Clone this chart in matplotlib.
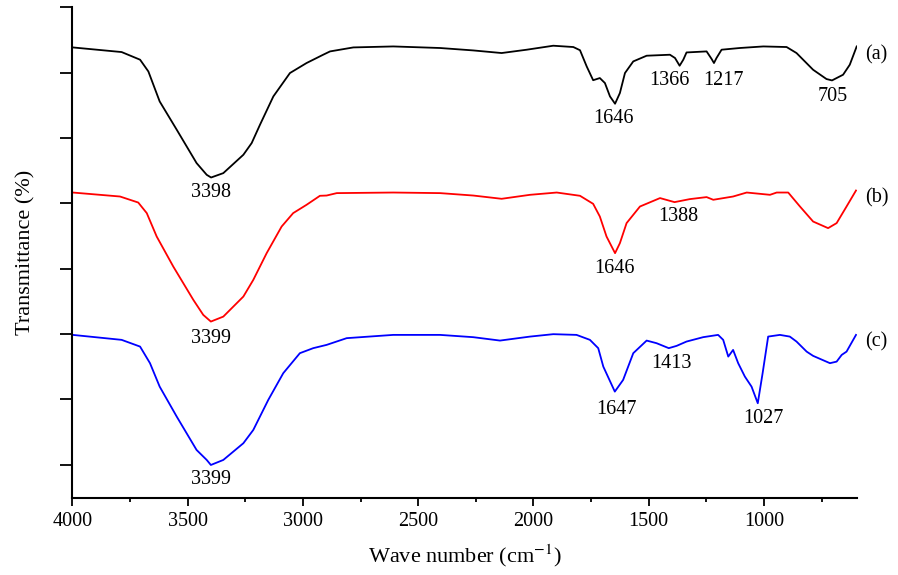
import numpy as np
import matplotlib
matplotlib.use("Agg")
import matplotlib.pyplot as plt
from matplotlib.ticker import MultipleLocator, NullFormatter

# FTIR spectra (a), (b), (c) stacked
# wavenumber (cm-1) and transmittance (arbitrary, offset per curve)
wn_a = [3998, 3786, 3706, 3670, 3621, 3547, 3461, 3417, 3398, 3345, 3258, 3222, 3186,
        3128, 3056, 2984, 2912, 2882, 2781, 2608, 2405, 2261, 2138, 2029, 1914, 1827,
        1798, 1769, 1741, 1712, 1690, 1668, 1646, 1625, 1603, 1567, 1509, 1408, 1386,
        1366, 1350, 1336, 1249, 1227, 1217, 1206, 1184, 1105, 1003, 902, 859, 787, 729,
        705, 657, 628, 598]
tr_a = [63.86, 63.15, 61.98, 60.18, 55.59, 51.26, 46.16, 44.36, 43.95, 44.62, 47.43, 49.22, 52.02,
        56.36, 59.94, 61.47, 62.74, 63.25, 63.86, 64.01, 63.77, 63.40, 63.00, 63.51, 64.12, 63.92,
        63.43, 60.95, 58.84, 59.17, 58.41, 56.36, 55.24, 56.88, 59.94, 61.72, 62.59, 62.74, 62.24,
        61.06, 61.98, 63.09, 63.25, 62.08, 61.47, 62.24, 63.51, 63.77, 64.01, 63.92, 63.00, 60.44, 59.02,
        58.81, 59.68, 61.21, 64.01]

wn_b = [3998, 3793, 3714, 3677, 3634, 3562, 3475, 3432, 3399, 3345, 3258, 3215, 3157,
        3092, 3042, 2984, 2926, 2897, 2853, 2608, 2405, 2261, 2138, 2015, 1899, 1798,
        1741, 1712, 1683, 1646, 1625, 1596, 1538, 1451, 1388, 1322, 1249, 1220, 1134,
        1075, 974, 945, 895, 844, 787, 722, 685, 642, 601]
tr_b = [41.65, 41.04, 40.12, 38.50, 34.92, 30.32, 25.22, 22.92, 21.90, 22.66, 25.73, 28.28, 32.37,
        36.45, 38.50, 39.77, 41.15, 41.19, 41.56, 41.65, 41.56, 41.19, 40.69, 41.30, 41.65, 41.15,
        39.92, 37.98, 34.92, 32.37, 33.90, 36.97, 39.51, 40.80, 40.18, 40.64, 40.95, 40.54, 41.04,
        41.65, 41.30, 41.65, 41.65, 39.51, 37.21, 36.20, 36.97, 39.51, 41.96]

wn_c = [3998, 3786, 3706, 3663, 3621, 3547, 3461, 3417, 3399, 3345, 3258, 3215, 3150,
        3085, 3013, 2955, 2897, 2810, 2608, 2405, 2261, 2145, 2015, 1914, 1813, 1755,
        1719, 1697, 1647, 1611, 1567, 1509, 1466, 1413, 1379, 1336, 1264, 1199, 1177,
        1155, 1134, 1112, 1083, 1054, 1027, 1006, 982, 931, 888, 859, 815, 787, 714,
        685, 663, 642, 601]
tr_c = [19.86, 19.10, 18.07, 15.53, 11.94, 7.35, 2.25, 0.72, -0.05, 0.72, 3.28, 5.31, 9.91,
        14.00, 17.06, 17.83, 18.33, 19.36, 19.86, 19.86, 19.51, 18.99, 19.60, 19.97, 19.86, 19.10,
        17.83, 15.01, 11.18, 12.97, 17.06, 18.99, 18.59, 17.83, 18.18, 18.84, 19.51, 19.86, 19.10,
        16.54, 17.56, 15.53, 13.48, 11.94, 9.40, 14.00, 19.60, 19.86, 19.60, 18.84, 17.30, 16.65, 15.53,
        15.77, 16.80, 17.30, 19.86]

# peak labels: text, x, y
peaks_a = [("3398", 3398, 41.65), ("1646", 1654, 53.05), ("1366", 1411, 58.76),
           ("1217", 1174, 58.76), ("705", 704, 56.36)]
peaks_b = [("3399", 3399, 19.36), ("1646", 1650, 30.08), ("1388", 1372, 37.98)]
peaks_c = [("3399", 3400, -2.34), ("1647", 1642, 8.38), ("1413", 1401, 15.53),
           ("1027", 1004, 7.0)]
curve_tags = [("(a)", 62.74), ("(b)", 40.80), ("(c)", 18.84)]

plt.rcParams["font.family"] = ["Liberation Serif", "DejaVu Serif"]
plt.rcParams["mathtext.fontset"] = "stix"

fig = plt.figure(figsize=(8.98, 5.75), dpi=100)
ax = fig.add_axes([0.0805, 0.1334, 0.954 - 0.0805, 0.9873 - 0.1334])

ax.plot(wn_a, tr_a, color="black", lw=1.3)
ax.plot(wn_b, tr_b, color="#ff0000", lw=1.3)
ax.plot(wn_c, tr_c, color="#0000ff", lw=1.3)

for lab, x, y in peaks_a + peaks_b + peaks_c:
    ax.text(x, y, lab, fontsize=14.5, ha="center", va="center")
for lab, y in curve_tags:
    ax.text(560, y, lab, fontsize=14.5, ha="left", va="center", clip_on=False)

ax.set_xlim(4000, 598)
ax.set_ylim(-5.15, 70)
ax.xaxis.set_major_locator(MultipleLocator(500))
ax.xaxis.set_minor_locator(MultipleLocator(250))
ax.yaxis.set_major_locator(MultipleLocator(10))
ax.yaxis.set_major_formatter(NullFormatter())

ax.spines["top"].set_visible(False)
ax.spines["right"].set_visible(False)
ax.spines["left"].set_linewidth(1.5)
ax.spines["bottom"].set_linewidth(1.5)
ax.tick_params(axis="x", which="major", direction="out", length=6, width=1.3,
               labelsize=14.5, pad=4)
ax.tick_params(axis="x", which="minor", direction="out", length=3, width=1.3)
ax.tick_params(axis="y", which="major", direction="out", length=9, width=1.3)

ax.set_xlabel("Wave number (cm$^{-1}$)", fontsize=16, labelpad=8)
ax.set_ylabel("Transmittance (%)", fontsize=16, labelpad=14)

fig.savefig("out.png", dpi=100)
